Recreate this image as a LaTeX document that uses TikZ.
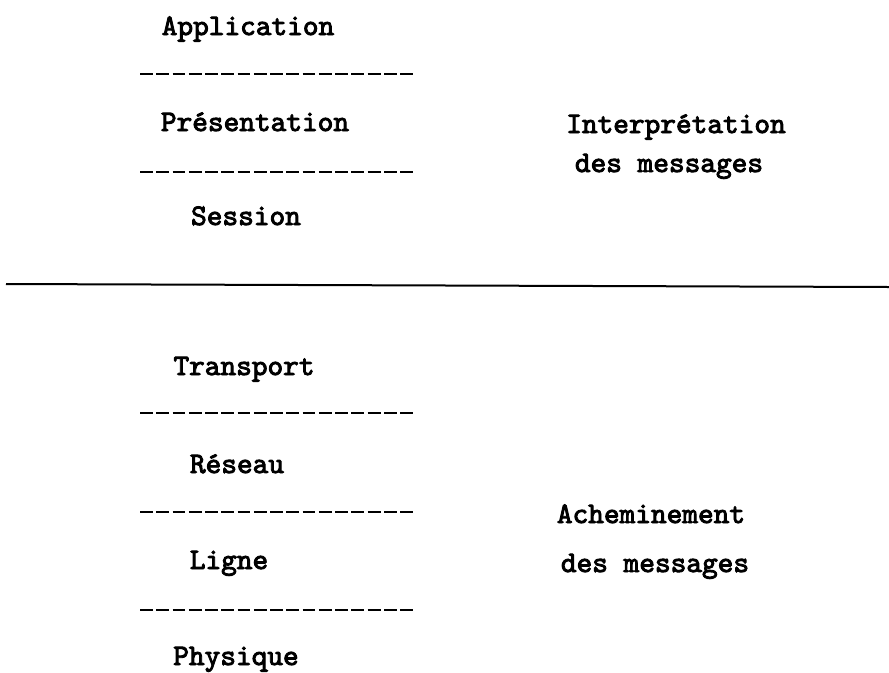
\documentclass[tikz,border=0pt]{standalone}
\usepackage{fontspec}
\newfontfamily\tele{lmmono10-regular.otf}[FakeBold=3]
\usetikzlibrary{positioning}

\begin{document}
\begin{tikzpicture}[x=0.75pt, y=-0.75pt, semithick]
	\tikzstyle{every node}=[font=\tele\fontsize{22.4}{26}\selectfont, inner sep=0pt, anchor=base]
	\tikzstyle{separ}=[line width=2.2pt, dash pattern=on 9.6pt off 2.6pt]
	\useasboundingbox (0,0) rectangle (889,672);
	% couches hautes
	\node (appli)   at (248,35)  {Application};
	\node (pres)    at (255,131) {Présentation};
	\node (sess)    at (246,225) {Session};
	\node (interp)  at (676,133) {Interprétation};
	\node (desmsg1) at (669,172) {des messages};
	% couches basses
	\node (transp)  at (244,375) {Transport};
	\node (reseau)  at (237,473) {Réseau};
	\node (ligne)   at (229,569) {Ligne};
	\node (phys)    at (236,665) {Physique};
	\node (achem)   at (651,523) {Acheminement};
	\node (desmsg2) at (655,572) {des messages};
	\foreach \y in {74,172,413,512,610}
		\draw[separ] (140,\y) -- (414,\y);
	\draw[line width=1.5pt] (6,284) -- (889,287);
	%\draw[red] (0,0) rectangle (889,672);
\end{tikzpicture}
\end{document}
